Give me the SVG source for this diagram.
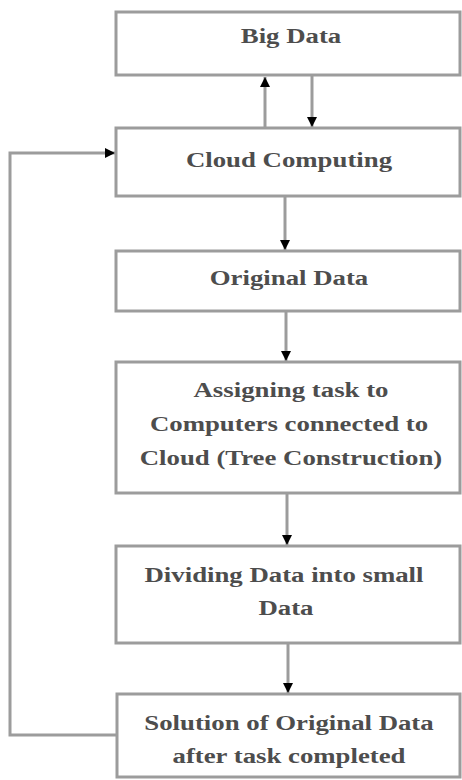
<svg xmlns="http://www.w3.org/2000/svg" width="462" height="780" viewBox="0 0 462 780">
<style>
.box{fill:#fff;stroke:#9c9c9c;stroke-width:3}
.lbl{font-family:"Liberation Serif","Times New Roman",serif;font-weight:bold;font-size:20px;fill:#4d4d4d;text-anchor:middle}
.con{fill:none;stroke:#9c9c9c;stroke-width:3}
</style>
<defs>
<marker id="ah" markerUnits="userSpaceOnUse" markerWidth="10" markerHeight="10" viewBox="0 0 10 10" refX="10" refY="5" orient="auto">
<path d="M0,0 L10,5 L0,10 Z" fill="#000"/>
</marker>
</defs>
<rect width="462" height="780" fill="#fff"/>
<g id="connectors">
<line class="con" x1="265" y1="128" x2="265" y2="77" marker-end="url(#ah)"/>
<line class="con" x1="312" y1="76" x2="312" y2="127" marker-end="url(#ah)"/>
<line class="con" x1="285" y1="197" x2="285" y2="250" marker-end="url(#ah)"/>
<line class="con" x1="286" y1="312" x2="286" y2="361" marker-end="url(#ah)"/>
<line class="con" x1="287" y1="494" x2="287" y2="545" marker-end="url(#ah)"/>
<line class="con" x1="288" y1="644" x2="288" y2="693" marker-end="url(#ah)"/>
<polyline class="con" points="116,735 10,735 10,153 115,153" marker-end="url(#ah)"/>
</g>
<g id="big-data">
<rect class="box" x="116" y="12" width="344" height="63"/>
<text class="lbl" transform="translate(291,43) scale(1.34,1)">Big Data</text>
</g>
<g id="cloud-computing">
<rect class="box" x="116" y="128" width="344" height="68"/>
<text class="lbl" transform="translate(289,167) scale(1.34,1)">Cloud Computing</text>
</g>
<g id="original-data">
<rect class="box" x="116" y="251" width="344" height="60"/>
<text class="lbl" transform="translate(289,285) scale(1.34,1)">Original Data</text>
</g>
<g id="assigning-task">
<rect class="box" x="116" y="362" width="344" height="131"/>
<text class="lbl" transform="translate(291,397) scale(1.34,1)">Assigning task to</text>
<text class="lbl" transform="translate(289,431) scale(1.34,1)">Computers connected to</text>
<text class="lbl" transform="translate(291,465) scale(1.34,1)">Cloud (Tree Construction)</text>
</g>
<g id="dividing-data">
<rect class="box" x="116" y="546" width="344" height="97"/>
<text class="lbl" transform="translate(284,582) scale(1.34,1)">Dividing Data into small</text>
<text class="lbl" transform="translate(286,615) scale(1.34,1)">Data</text>
</g>
<g id="solution">
<rect class="box" x="117" y="694" width="343" height="83"/>
<text class="lbl" transform="translate(289,730) scale(1.34,1)">Solution of Original Data</text>
<text class="lbl" transform="translate(289,763) scale(1.34,1)">after task completed</text>
</g>
</svg>
